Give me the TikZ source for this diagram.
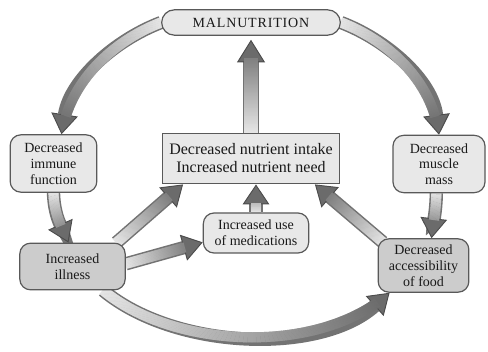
\documentclass[tikz,border=0pt]{standalone}
\usepackage{fontspec}
\setmainfont{Liberation Serif}
\usetikzlibrary{arrows.meta,decorations.markings,shapes.misc,backgrounds}
\def\fw{3.8pt}
\tikzset{
  box/.style={draw=black!65, line width=0.9pt, fill=black!9, rounded corners=8pt,
    align=center, font=\fontsize{10.5}{11.8}\selectfont, inner sep=1pt, text=black!90},
  darkbox/.style={box, fill=black!20},
  fatline/.style={draw=black!55, line width=10pt,
    -{Triangle[width=20pt,length=15pt,line width=0.7pt,fill=black!58,color=black!70]}},
  fatfill/.style={decorate, decoration={markings,
    mark=between positions 0 and -14pt step 0.6pt with {
      \pgfmathsetmacro\gshade{10+50*\pgfkeysvalueof{/pgf/decoration/mark info/distance from start}/\pgfdecoratedpathlength}
      \fill[black!\gshade] (-0.45pt,-\fw) rectangle (0.45pt,\fw);
    }}}
}
\newcommand\fatarrow[1]{\draw[fatline] #1; \path[fatfill] #1;}
\begin{document}
\begin{tikzpicture}[x=0.75pt,y=-0.75pt]
\useasboundingbox (0,0) rectangle (488,352);
\node[box, sharp corners, rounded rectangle, rounded rectangle arc length=180, minimum width=136pt, minimum height=19pt,
  font=\fontsize{10.5}{12}\selectfont\addfontfeature{LetterSpace=6}] (mal) at (251,22.5) {MALNUTRITION};
\node[box, minimum width=65pt, minimum height=43pt] (imm) at (53.5,163.5) {Decreased\\immune\\function};
\node[box, minimum width=69pt, minimum height=43pt] (mus) at (439,164) {Decreased\\muscle\\mass};
\node[box, rounded corners=0pt, minimum width=133pt, minimum height=38pt,
  font=\fontsize{12}{13.5}\selectfont] (cen) at (251,158.5) {Decreased nutrient intake\\Increased nutrient need};
\node[box, minimum width=79pt, minimum height=30pt] (med) at (256,233) {Increased use\\of medications};
\node[darkbox, minimum width=79pt, minimum height=35pt] (ill) at (72.5,266.5) {Increased\\illness};
\node[darkbox, minimum width=68pt, minimum height=40pt] (acc) at (423.5,265.5) {Decreased\\accessibility\\of food};
\begin{pgfonlayer}{background}
\fatarrow{(mal.west) .. controls (115,40) and (70,80) .. ([xshift=6pt]imm.north)}
\fatarrow{(mal.east) .. controls (387,40) and (432,80) .. (mus.north)}
\fatarrow{(imm.south) .. controls (54,215) and (62,228) .. ([xshift=-3pt]ill.north)}
\fatarrow{([xshift=-2pt]mus.south) .. controls (436,212) and (433,225) .. ([xshift=6pt]acc.north)}
\fatarrow{([xshift=-7pt]ill.north east) -- ([xshift=16pt]cen.south west)}
\fatarrow{([yshift=2pt]ill.east) -- ([yshift=-7pt]med.west)}
\fatarrow{([xshift=4pt,yshift=-3pt]acc.north west) -- ([xshift=-19pt]cen.south east)}
\fatarrow{(med.north) -- (med.north |- cen.south)}
\fatarrow{([xshift=23pt]ill.south) .. controls (175,350) and (320,355) .. ([xshift=9pt]acc.south west)}
\begin{scope}
\def\fw{5pt}
\tikzset{fatline/.append style={line width=12.5pt,
  -{Triangle[width=21pt,length=17pt,line width=0.7pt,fill=black!58,color=black!70]}}}
\fatarrow{(cen.north) -- ([yshift=-3pt]mal.south)}
\end{scope}
\end{pgfonlayer}
\end{tikzpicture}
\end{document}
